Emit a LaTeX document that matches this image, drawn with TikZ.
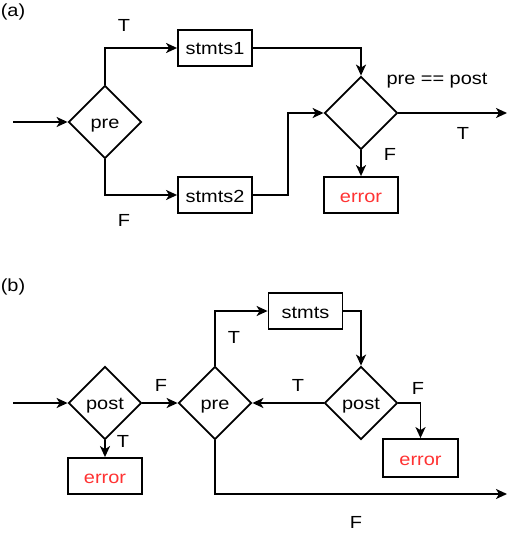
\documentclass[tikz,border=0pt]{standalone}
\usepackage{fontspec}
\setmainfont[FakeStretch=1.14]{Liberation Sans}
\usetikzlibrary{shapes.geometric,arrows.meta}
\definecolor{errred}{RGB}{255,51,51}
\begin{document}
\begin{tikzpicture}[x=1pt,y=-1pt,
  every node/.style={font=\fontsize{17.5}{20}\selectfont, inner sep=0pt},
  box/.style={draw, line width=1.8pt, minimum width=74pt, minimum height=36pt, text height=14pt, text depth=0pt},
  dia/.style={draw, diamond, aspect=1, line width=1.8pt, minimum width=73pt, minimum height=73pt, text height=13pt, text depth=0pt},
  conn/.style={line width=1.8pt, -{Stealth[length=11pt,width=10pt,inset=3pt]}},
  err/.style={text=errred}]
\useasboundingbox (0,0) rectangle (508,556);
% panel (a)
\node (la) at (13,12) {(a)};
\node[dia] (pre) at (105,122) {pre};
\node[box] (s1) at (215,48) {stmts1};
\node[box] (s2) at (215,195) {stmts2};
\node[dia] (pp) at (361,113) {};
\node[box,err] (e1) at (361,195) {error};
\coordinate (ina) at (13,122);
\coordinate (outa) at (507,113);
\draw[conn] (ina) -- (pre.west);
\draw[conn] (pre.north) |- (s1.west);
\draw[conn] (pre.south) |- (s2.west);
\draw[conn] (s1.east) -| (pp.north);
\draw[conn] (s2.east) -- ++(35,0) |- (pp.west);
\draw[conn] (pp.east) -- (outa);
\draw[conn] (pp.south) -- (e1.north);
\node (ta1) at (124,25) {T};
\node (fa1) at (124,220) {F};
\node (ppl) at (437,81) {pre == post};
\node (ta2) at (463,133) {T};
\node (fa2) at (390,154) {F};
% panel (b)
\node (lb) at (13,287) {(b)};
\node[dia] (po1) at (105,403) {post};
\node[box,err] (e2) at (105,476) {error};
\node[dia] (pre2) at (215,403) {pre};
\node[box] (st) at (305.5,311) {stmts};
\node[dia] (po2) at (361,403) {post};
\node[box,err,minimum width=75pt,minimum height=38pt] (e3) at (420.5,458) {error};
\coordinate (inb) at (13,403);
\coordinate (outb) at (507,494);
\draw[conn] (inb) -- (po1.west);
\draw[conn] (po1.south) -- (e2.north);
\draw[conn] (po1.east) -- (pre2.west);
\draw[conn] (pre2.north) |- (st.west);
\draw[conn] (st.east) -| (po2.north);
\draw[conn] (po2.west) -- (pre2.east);
\draw[conn] (po2.east) -| (e3.north);
\draw[conn] (pre2.south) |- (outb);
\node (tb1) at (123,441) {T};
\node (fb1) at (161,385) {F};
\node (tb2) at (234,337) {T};
\node (tb3) at (298,385) {T};
\node (fb2) at (418,388) {F};
\node (fb3) at (356,522) {F};
\end{tikzpicture}
\end{document}
